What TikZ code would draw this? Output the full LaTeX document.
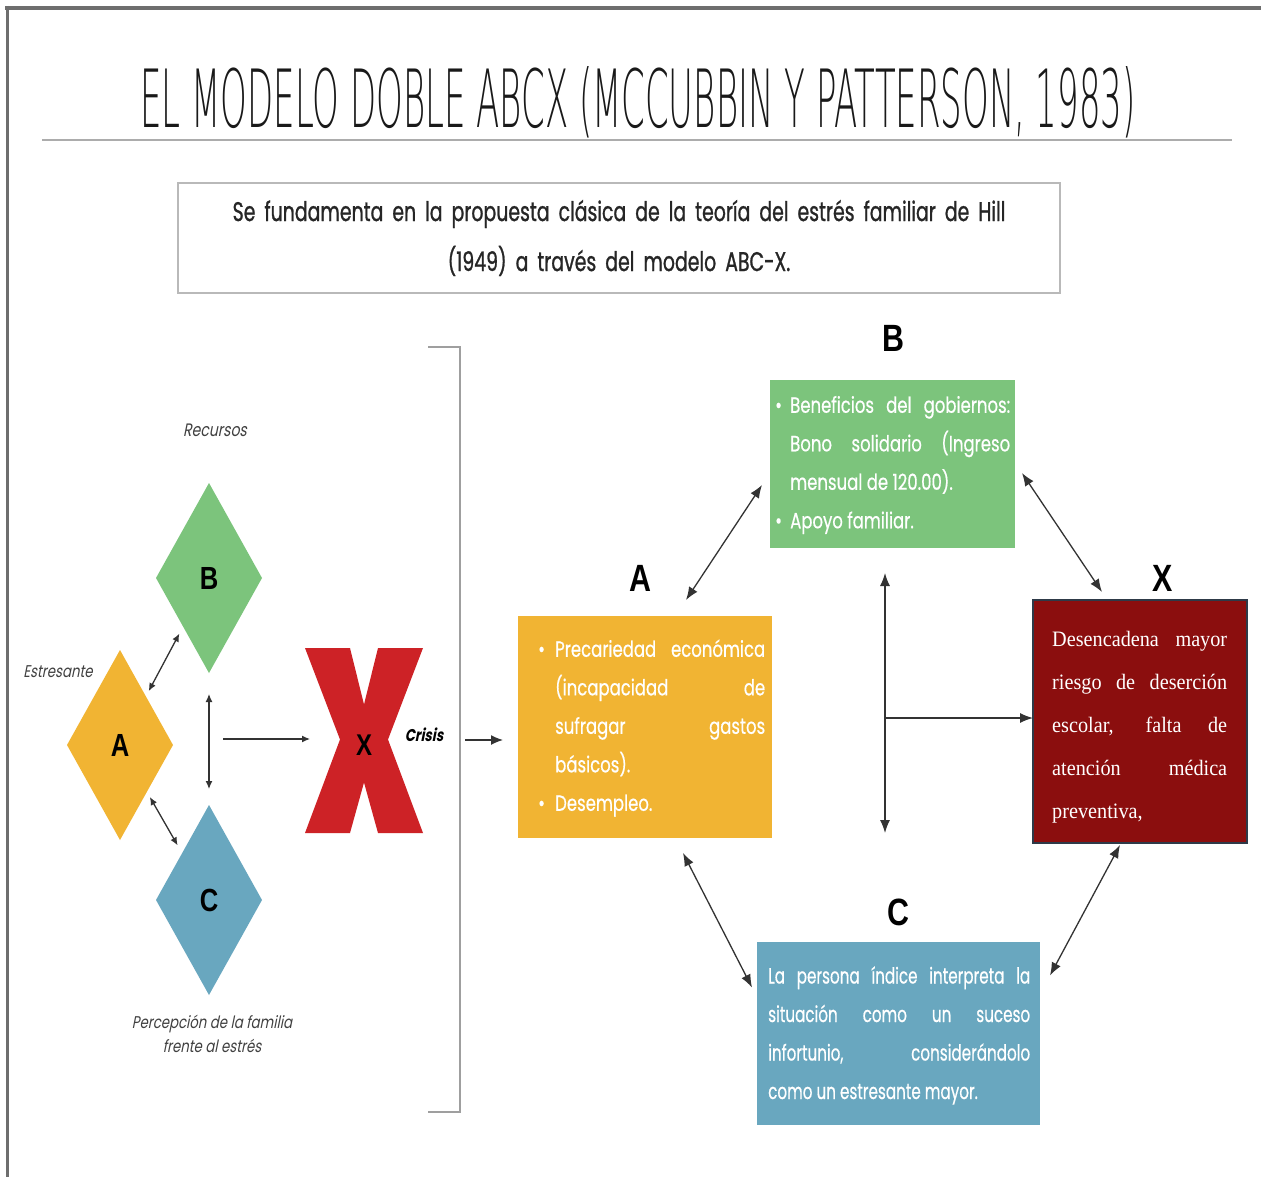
\documentclass[tikz,border=0pt]{standalone}
\usepackage{fontspec}
\usepackage{graphicx}
\usetikzlibrary{shapes.geometric,arrows.meta,calc}

\newfontfamily\popfont[FakeStretch=0.75,FakeBold=0.5]{Poppins}
\newfontfamily\popnarrow[FakeStretch=0.69,FakeBold=0.5]{Poppins}
\newfontfamily\introfont[FakeStretch=0.70,FakeBold=0.9]{Poppins}
\newfontfamily\popit[FakeStretch=0.78,FakeSlant=0.2]{Poppins}
\newfontfamily\lblfont[FakeStretch=0.8]{Liberation Sans}
\newfontfamily\boxserif[FakeStretch=0.92]{Liberation Serif}
\newfontfamily\titlefont{DejaVu Sans ExtraLight}
\newcommand\nohyph{\hyphenpenalty=10000 \exhyphenpenalty=10000 \tolerance=9999 }

\definecolor{cA}{HTML}{F1B433}
\definecolor{cB}{HTML}{7CC47C}
\definecolor{cC}{HTML}{69A7BF}
\definecolor{cX}{HTML}{8B0E0E}
\definecolor{cRed}{HTML}{CD2226}
\definecolor{edgec}{HTML}{333333}
\definecolor{framec}{HTML}{6E6E6E}
\definecolor{xborder}{HTML}{2E3A48}

\begin{document}
\begin{tikzpicture}[x=1pt,y=-1pt,
  dia/.style={diamond, minimum width=106pt, minimum height=190pt, inner sep=0pt, outer sep=0pt,
    font=\lblfont\bfseries\fontsize{32}{32}\selectfont},
  letter/.style={font=\lblfont\bfseries\fontsize{38}{38}\selectfont, inner sep=0pt},
  panel/.style={rectangle, inner sep=0pt, outer sep=0pt},
  paneltext/.style={text=white, align=justify, inner sep=0pt,
    font=\popfont\fontsize{22}{38.5}\selectfont\nohyph},
  note/.style={font=\popit\fontsize{18}{24}\selectfont, text=black!75, align=center, inner sep=0pt},
  ldbl/.style={{Latex[length=8pt,width=7pt]}-{Latex[length=8pt,width=7pt]}, line width=1.3pt, draw=edgec},
  lsgl/.style={-{Latex[length=8pt,width=7pt]}, line width=1.3pt, draw=edgec},
  rdbl/.style={{Latex[length=13pt,width=10pt]}-{Latex[length=13pt,width=10pt]}, line width=1.3pt, draw=edgec},
  rsgl/.style={-{Latex[length=13pt,width=10pt]}, line width=1.3pt, draw=edgec}]

\useasboundingbox[fill=white] (0,0) rectangle (1261,1177);

% window frame
\draw[framec, line width=4pt] (5,8) -- (1261,8);
\draw[framec, line width=3pt] (7,6) -- (7,1177);

% title and rule
\node[anchor=base, inner sep=0pt, text=black!90] (title) at (638,128)
  {\resizebox{995pt}{61pt}{\titlefont EL MODELO DOBLE ABCX (MCCUBBIN Y PATTERSON, 1983)}};
\draw[gray!65, line width=2.5pt] (42,140) -- (1232,140);

% introduction box
\node[draw=gray!55, line width=1.3pt, minimum width=882pt, minimum height=110pt,
  text width=860pt, align=center, inner sep=0pt,
  font=\introfont\fontsize{27}{50}\selectfont, text=black!85] (intro) at (619,238)
  {Se fundamenta en la propuesta clásica de la teoría del estrés familiar de Hill\\(1949) a través del modelo ABC-X.};

% ---- left: simple ABC-X scheme ----
\node[dia, fill=cB] (dB) at (209,578) {B};
\node[dia, fill=cA] (dA) at (120,745) {A};
\node[dia, fill=cC] (dC) at (209,900) {C};

\node[note] (nRec) at (215,430) {Recursos};
\node[note, font=\popit\fontsize{17}{24}\selectfont] (nEst) at (58,672) {Estresante};
\node[note, font=\popit\fontsize{17}{24}\selectfont] (nPer) at (212,1034) {Percepción de la familia\\frente al estrés};

\draw[ldbl, shorten <=6pt, shorten >=8pt] (dA) -- (dB);
\draw[ldbl, shorten <=6pt, shorten >=9pt] (dA) -- (dC);
\draw[ldbl, shorten <=21pt, shorten >=16pt] (dB.south) -- (dC.north);

% crisis X
\node[panel, minimum width=118pt, minimum height=185pt] (bigX) at (364,740.5) {};
\fill[cRed] ($(bigX.center)+(-59,-92.5)$) -- ++(45,0) -- ($(bigX.center)+(0,-36)$)
  -- ($(bigX.center)+(14,-92.5)$) -- ++(45,0) -- ($(bigX.center)+(24,-1)$)
  -- ($(bigX.center)+(59,92.5)$) -- ++(-45,0) -- ($(bigX.center)+(0,42)$)
  -- ($(bigX.center)+(-14,92.5)$) -- ++(-45,0) -- ($(bigX.center)+(-24,-1)$) -- cycle;
\node[font=\lblfont\bfseries\fontsize{30}{30}\selectfont, inner sep=0pt] (xlbl) at (364,745) {X};
\node[font=\popit\bfseries\fontsize{17}{17}\selectfont, inner sep=0pt] (crisis) at (424,735) {Crisis};

\coordinate (lhub) at (223,739);
\draw[lsgl] (lhub) -- ([xshift=5pt]bigX.west |- lhub);

% bracket
\draw[gray!75, line width=1.5pt] (428,347) -- (460,347) -- (460,1112) -- (428,1112);
\coordinate (brk) at (460,740);

% ---- right: double ABC-X panels ----
\node[panel, fill=cB, minimum width=245pt, minimum height=168pt] (bB) at (892.5,464) {};
\node[panel, fill=cA, minimum width=254pt, minimum height=222pt] (bA) at (645,727) {};
\node[panel, fill=cX, draw=xborder, line width=2pt, minimum width=214pt, minimum height=243pt] (bX) at (1140,721.5) {};
\node[panel, fill=cC, minimum width=283pt, minimum height=183pt] (bC) at (898.5,1033.5) {};

\node[letter] (lB) at (893,338) {B};
\node[letter] (lA) at (640,578) {A};
\node[letter] (lX) at (1163,578) {X};
\node[letter] (lC) at (898,912) {C};

\node[paneltext, text width=235pt, anchor=west] (tB) at ([xshift=5pt,yshift=-1pt]bB.west)
  {\hangindent=15pt\hangafter=1\noindent\makebox[15pt][l]{•}Beneficios del gobiernos: Bono solidario (Ingreso mensual de 120.00).\par
   \hangindent=15pt\hangafter=1\noindent\makebox[15pt][l]{•}Apoyo familiar.};
\node[paneltext, text width=227pt, anchor=west] (tA) at ([xshift=20pt,yshift=-1pt]bA.west)
  {\hangindent=17pt\hangafter=1\noindent\makebox[17pt][l]{•}Precariedad económica (incapacidad de sufragar gastos\linebreak básicos).\par
   \hangindent=17pt\hangafter=1\noindent\makebox[17pt][l]{•}Desempleo.};
\node[paneltext, text width=175pt, anchor=west, font=\boxserif\fontsize{22}{43}\selectfont\nohyph] (tX) at ([xshift=19pt,yshift=-6pt]bX.west)
  {Desencadena mayor riesgo de deserción escolar, falta de atención médica preventiva,};
\node[paneltext, text width=262pt, anchor=west, font=\popnarrow\fontsize{22}{38.5}\selectfont\nohyph] (tC) at ([xshift=11pt,yshift=-2pt]bC.west)
  {La persona índice interpreta la\linebreak situación como un suceso\linebreak infortunio, considerándolo\linebreak como un estresante mayor.};

% connectors between panels
\draw[lsgl, line width=1.3pt, -{Latex[length=12pt,width=10pt]}] ([xshift=5pt]brk) -- ([xshift=-15pt]bA.west |- brk);
\draw[rdbl] ([shift={(41,-16)}]bA.north) -- ([shift={(-8,21)}]bB.west);
\draw[rdbl] ([shift={(7,9)}]bB.east) -- ([shift={(-38,-8)}]bX.north);
\draw[rdbl] ([shift={(-20,2)}]bX.south) -- ([shift={(10,-58)}]bC.east);
\draw[rdbl] ([shift={(38,15)}]bA.south) -- ([shift={(-5,-46)}]bC.west);

\coordinate (vtop) at (885,573);
\coordinate (vbot) at (885,833);
\coordinate (vmid) at (885,718);
\draw[rdbl] (vtop) -- (vbot);
\draw[rsgl] (vmid) -- (vmid -| bX.west);

\end{tikzpicture}
\end{document}
